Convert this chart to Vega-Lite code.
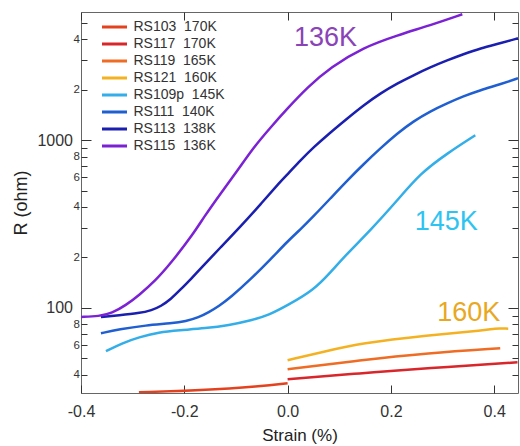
{
  "$schema": "https://vega.github.io/schema/vega-lite/v6.json",
  "width": 437,
  "height": 381,
  "autosize": {"type": "none"},
  "padding": {"left": 81, "top": 12, "right": 2, "bottom": 53},
  "config": {
    "font": "Liberation Sans",
    "view": {"stroke": "#666", "strokeWidth": 1},
    "axis": {"grid": false, "domain": false, "ticks": true, "tickColor": "#333", "tickWidth": 1, "labelColor": "#333", "labelFlush": false, "labelOverlap": false, "labelBound": false, "titleFontWeight": "normal", "titleColor": "#222"}
  },
  "resolve": {"axis": {"x": "independent", "y": "independent"}},
  "layer": [
    {
      "mark": {"type": "rule", "strokeDash": [1, 2], "color": "#222", "strokeWidth": 1},
      "encoding": {
        "x": {"datum": 0, "type": "quantitative", "scale": {"domain": [-0.4, 0.446], "nice": false, "zero": false}, "axis": null}
      }
    },
    {
      "data": {"values": [
        {"s": "RS103\u00a0 170K", "x": -0.2879, "r": 31.4},
        {"s": "RS103\u00a0 170K", "x": -0.1681, "r": 32.3},
        {"s": "RS103\u00a0 170K", "x": -0.0522, "r": 34.1},
        {"s": "RS103\u00a0 170K", "x": 0.0, "r": 35.6},
        {"s": "RS117\u00a0 170K", "x": 0.0, "r": 37.6},
        {"s": "RS117\u00a0 170K", "x": 0.1411, "r": 40.8},
        {"s": "RS117\u00a0 170K", "x": 0.2705, "r": 43.7},
        {"s": "RS117\u00a0 170K", "x": 0.445, "r": 47.4},
        {"s": "RS119\u00a0 165K", "x": 0.0, "r": 43.1},
        {"s": "RS119\u00a0 165K", "x": 0.1411, "r": 48.8},
        {"s": "RS119\u00a0 165K", "x": 0.2705, "r": 53.7},
        {"s": "RS119\u00a0 165K", "x": 0.4116, "r": 57.5},
        {"s": "RS121\u00a0 160K", "x": 0.0, "r": 48.8},
        {"s": "RS121\u00a0 160K", "x": 0.07, "r": 54.8},
        {"s": "RS121\u00a0 160K", "x": 0.1411, "r": 61.6},
        {"s": "RS121\u00a0 160K", "x": 0.2705, "r": 68.7},
        {"s": "RS121\u00a0 160K", "x": 0.3865, "r": 73.6},
        {"s": "RS121\u00a0 160K", "x": 0.3981, "r": 75.7},
        {"s": "RS121\u00a0 160K", "x": 0.4271, "r": 75.2},
        {"s": "RS109p\u00a0 145K", "x": -0.3517, "r": 55.2},
        {"s": "RS109p\u00a0 145K", "x": -0.3208, "r": 61.6},
        {"s": "RS109p\u00a0 145K", "x": -0.2879, "r": 66.9},
        {"s": "RS109p\u00a0 145K", "x": -0.2493, "r": 71.6},
        {"s": "RS109p\u00a0 145K", "x": -0.2106, "r": 73.6},
        {"s": "RS109p\u00a0 145K", "x": -0.1585, "r": 75.7},
        {"s": "RS109p\u00a0 145K", "x": -0.114, "r": 78.8},
        {"s": "RS109p\u00a0 145K", "x": -0.0696, "r": 84.5},
        {"s": "RS109p\u00a0 145K", "x": -0.0367, "r": 90.5},
        {"s": "RS109p\u00a0 145K", "x": 0.0, "r": 103.8},
        {"s": "RS109p\u00a0 145K", "x": 0.0502, "r": 127.5},
        {"s": "RS109p\u00a0 145K", "x": 0.0831, "r": 163.3},
        {"s": "RS109p\u00a0 145K", "x": 0.1159, "r": 212.0},
        {"s": "RS109p\u00a0 145K", "x": 0.1604, "r": 290.7},
        {"s": "RS109p\u00a0 145K", "x": 0.2126, "r": 438.7},
        {"s": "RS109p\u00a0 145K", "x": 0.257, "r": 635.6},
        {"s": "RS109p\u00a0 145K", "x": 0.3092, "r": 836.6},
        {"s": "RS109p\u00a0 145K", "x": 0.3633, "r": 1071},
        {"s": "RS111\u00a0 140K", "x": -0.3614, "r": 70.6},
        {"s": "RS111\u00a0 140K", "x": -0.3266, "r": 74.6},
        {"s": "RS111\u00a0 140K", "x": -0.2744, "r": 78.8},
        {"s": "RS111\u00a0 140K", "x": -0.2242, "r": 81.0},
        {"s": "RS111\u00a0 140K", "x": -0.1971, "r": 83.3},
        {"s": "RS111\u00a0 140K", "x": -0.172, "r": 88.0},
        {"s": "RS111\u00a0 140K", "x": -0.1527, "r": 94.3},
        {"s": "RS111\u00a0 140K", "x": -0.1333, "r": 102.4},
        {"s": "RS111\u00a0 140K", "x": -0.1101, "r": 115.8},
        {"s": "RS111\u00a0 140K", "x": -0.0715, "r": 148.3},
        {"s": "RS111\u00a0 140K", "x": -0.0329, "r": 195.1},
        {"s": "RS111\u00a0 140K", "x": 0.0, "r": 249.9},
        {"s": "RS111\u00a0 140K", "x": 0.0251, "r": 294.7},
        {"s": "RS111\u00a0 140K", "x": 0.0502, "r": 352.3},
        {"s": "RS111\u00a0 140K", "x": 0.0831, "r": 451.0},
        {"s": "RS111\u00a0 140K", "x": 0.1159, "r": 577.4},
        {"s": "RS111\u00a0 140K", "x": 0.1469, "r": 719.4},
        {"s": "RS111\u00a0 140K", "x": 0.1797, "r": 896.2},
        {"s": "RS111\u00a0 140K", "x": 0.2126, "r": 1101},
        {"s": "RS111\u00a0 140K", "x": 0.2435, "r": 1298},
        {"s": "RS111\u00a0 140K", "x": 0.2763, "r": 1489},
        {"s": "RS111\u00a0 140K", "x": 0.3092, "r": 1662},
        {"s": "RS111\u00a0 140K", "x": 0.3401, "r": 1830},
        {"s": "RS111\u00a0 140K", "x": 0.373, "r": 1987},
        {"s": "RS111\u00a0 140K", "x": 0.4116, "r": 2158},
        {"s": "RS111\u00a0 140K", "x": 0.446, "r": 2343},
        {"s": "RS113\u00a0 138K", "x": -0.3614, "r": 88.4},
        {"s": "RS113\u00a0 138K", "x": -0.3266, "r": 90.5},
        {"s": "RS113\u00a0 138K", "x": -0.2879, "r": 93.0},
        {"s": "RS113\u00a0 138K", "x": -0.2628, "r": 96.9},
        {"s": "RS113\u00a0 138K", "x": -0.2454, "r": 102.4},
        {"s": "RS113\u00a0 138K", "x": -0.2261, "r": 112.7},
        {"s": "RS113\u00a0 138K", "x": -0.2068, "r": 129.3},
        {"s": "RS113\u00a0 138K", "x": -0.1874, "r": 148.3},
        {"s": "RS113\u00a0 138K", "x": -0.1681, "r": 172.5},
        {"s": "RS113\u00a0 138K", "x": -0.1295, "r": 230.1},
        {"s": "RS113\u00a0 138K", "x": -0.0908, "r": 307.1},
        {"s": "RS113\u00a0 138K", "x": -0.0522, "r": 415.3},
        {"s": "RS113\u00a0 138K", "x": -0.0135, "r": 569.4},
        {"s": "RS113\u00a0 138K", "x": 0.0, "r": 627},
        {"s": "RS113\u00a0 138K", "x": 0.0251, "r": 759.8},
        {"s": "RS113\u00a0 138K", "x": 0.0502, "r": 908.4},
        {"s": "RS113\u00a0 138K", "x": 0.0831, "r": 1116},
        {"s": "RS113\u00a0 138K", "x": 0.1159, "r": 1353},
        {"s": "RS113\u00a0 138K", "x": 0.1469, "r": 1617},
        {"s": "RS113\u00a0 138K", "x": 0.1797, "r": 1907},
        {"s": "RS113\u00a0 138K", "x": 0.2126, "r": 2187},
        {"s": "RS113\u00a0 138K", "x": 0.2435, "r": 2442},
        {"s": "RS113\u00a0 138K", "x": 0.2763, "r": 2725},
        {"s": "RS113\u00a0 138K", "x": 0.3092, "r": 2999},
        {"s": "RS113\u00a0 138K", "x": 0.3401, "r": 3257},
        {"s": "RS113\u00a0 138K", "x": 0.373, "r": 3537},
        {"s": "RS113\u00a0 138K", "x": 0.4116, "r": 3788},
        {"s": "RS113\u00a0 138K", "x": 0.446, "r": 4057},
        {"s": "RS115\u00a0 136K", "x": -0.4, "r": 88.4},
        {"s": "RS115\u00a0 136K", "x": -0.3652, "r": 89.2},
        {"s": "RS115\u00a0 136K", "x": -0.3401, "r": 93.0},
        {"s": "RS115\u00a0 136K", "x": -0.3131, "r": 103.8},
        {"s": "RS115\u00a0 136K", "x": -0.2879, "r": 119.0},
        {"s": "RS115\u00a0 136K", "x": -0.2551, "r": 146.3},
        {"s": "RS115\u00a0 136K", "x": -0.2261, "r": 184.8},
        {"s": "RS115\u00a0 136K", "x": -0.1816, "r": 278.9},
        {"s": "RS115\u00a0 136K", "x": -0.1623, "r": 347.4},
        {"s": "RS115\u00a0 136K", "x": -0.1295, "r": 483.1},
        {"s": "RS115\u00a0 136K", "x": -0.0966, "r": 662.3},
        {"s": "RS115\u00a0 136K", "x": -0.0657, "r": 908.4},
        {"s": "RS115\u00a0 136K", "x": -0.0329, "r": 1195},
        {"s": "RS115\u00a0 136K", "x": 0.0, "r": 1551},
        {"s": "RS115\u00a0 136K", "x": 0.0386, "r": 2071},
        {"s": "RS115\u00a0 136K", "x": 0.0831, "r": 2725},
        {"s": "RS115\u00a0 136K", "x": 0.1469, "r": 3586},
        {"s": "RS115\u00a0 136K", "x": 0.2126, "r": 4229},
        {"s": "RS115\u00a0 136K", "x": 0.2763, "r": 4851},
        {"s": "RS115\u00a0 136K", "x": 0.3382, "r": 5640}
      ]},
      "mark": {"type": "line", "strokeWidth": 2.5, "interpolate": "basis", "clip": true},
      "encoding": {
        "x": {"field": "x", "type": "quantitative",
          "scale": {"domain": [-0.4, 0.446], "nice": false, "zero": false},
          "axis": {"orient": "bottom", "values": [-0.4, -0.2, 0, 0.2, 0.4],
            "labelExpr": "(datum.value < 0 ? '-' : '') + format(abs(datum.value), '.1f')",
            "labelFontSize": 16, "tickSize": -8, "labelPadding": 18,
            "title": "Strain (%)", "titleFontSize": 17, "titlePadding": 8}},
        "y": {"field": "r", "type": "quantitative",
          "scale": {"type": "log", "domain": [31.1, 5821], "nice": false},
          "axis": {"orient": "left",
            "values": [40, 50, 60, 70, 80, 90, 100, 200, 300, 400, 500, 600, 700, 800, 900, 1000, 2000, 3000, 4000, 5000],
            "labelExpr": "datum.value == 100 || datum.value == 1000 ? datum.value + '' : (indexof([40, 60, 80, 200, 400, 600, 800, 2000, 4000], datum.value) >= 0 ? substring(datum.value + '', 0, 1) : '')",
            "tickSize": {"condition": {"test": "datum.value == 100 || datum.value == 1000", "value": -10}, "value": -6},
            "labelFontSize": {"condition": {"test": "datum.value == 100 || datum.value == 1000", "value": 16}, "value": 11.5},
            "labelPadding": {"condition": {"test": "datum.value == 100 || datum.value == 1000", "value": 18.5}, "value": 7.5},
            "title": "R (ohm)", "titleFontSize": 18, "titlePadding": 6}},
        "color": {"field": "s", "type": "nominal",
          "scale": {
            "domain": ["RS103\u00a0 170K", "RS117\u00a0 170K", "RS119\u00a0 165K", "RS121\u00a0 160K", "RS109p\u00a0 145K", "RS111\u00a0 140K", "RS113\u00a0 138K", "RS115\u00a0 136K"],
            "range": ["#e4421e", "#d8262a", "#ef6c24", "#f4b223", "#33aee8", "#1f5fd1", "#1a1fb0", "#7b22d4"]},
          "legend": {"orient": "none", "legendX": 19.5, "legendY": 7.5, "title": null, "symbolType": "stroke", "symbolSize": 625, "symbolStrokeWidth": 3, "labelFontSize": 14, "labelFont": "Liberation Sans", "labelColor": "#333", "clipHeight": 15, "rowPadding": 2, "labelOffset": 5, "padding": 0}}
      }
    },
    {
      "data": {"values": [{"x": 0.0734, "r": 4057, "t": "136K"}]},
      "mark": {"type": "text", "fontSize": 27, "font": "Liberation Sans", "color": "#8a44b8", "align": "center", "baseline": "middle"},
      "encoding": {
        "x": {"field": "x", "type": "quantitative",
          "scale": {"domain": [-0.4, 0.446], "nice": false, "zero": false},
          "axis": {"orient": "top", "values": [-0.4, -0.2, 0, 0.2, 0.4], "labels": false, "tickSize": -8, "title": null}},
        "y": {"field": "r", "type": "quantitative",
          "scale": {"type": "log", "domain": [31.1, 5821], "nice": false},
          "axis": {"orient": "right",
            "values": [40, 50, 60, 70, 80, 90, 100, 200, 300, 400, 500, 600, 700, 800, 900, 1000, 2000, 3000, 4000, 5000],
            "labels": false, "title": null,
            "tickSize": {"condition": {"test": "datum.value == 100 || datum.value == 1000", "value": -10}, "value": -6}}},
        "text": {"field": "t"}
      }
    },
    {
      "data": {"values": [{"x": 0.3073, "r": 324, "t": "145K"}]},
      "mark": {"type": "text", "fontSize": 27, "font": "Liberation Sans", "color": "#2ec4f2", "align": "center", "baseline": "middle"},
      "encoding": {
        "x": {"field": "x", "type": "quantitative", "scale": {"domain": [-0.4, 0.446], "nice": false, "zero": false}, "axis": null},
        "y": {"field": "r", "type": "quantitative", "scale": {"type": "log", "domain": [31.1, 5821], "nice": false}, "axis": null},
        "text": {"field": "t"}
      }
    },
    {
      "data": {"values": [{"x": 0.3507, "r": 93, "t": "160K"}]},
      "mark": {"type": "text", "fontSize": 27, "font": "Liberation Sans", "color": "#e9a823", "align": "center", "baseline": "middle"},
      "encoding": {
        "x": {"field": "x", "type": "quantitative", "scale": {"domain": [-0.4, 0.446], "nice": false, "zero": false}, "axis": null},
        "y": {"field": "r", "type": "quantitative", "scale": {"type": "log", "domain": [31.1, 5821], "nice": false}, "axis": null},
        "text": {"field": "t"}
      }
    }
  ]
}
